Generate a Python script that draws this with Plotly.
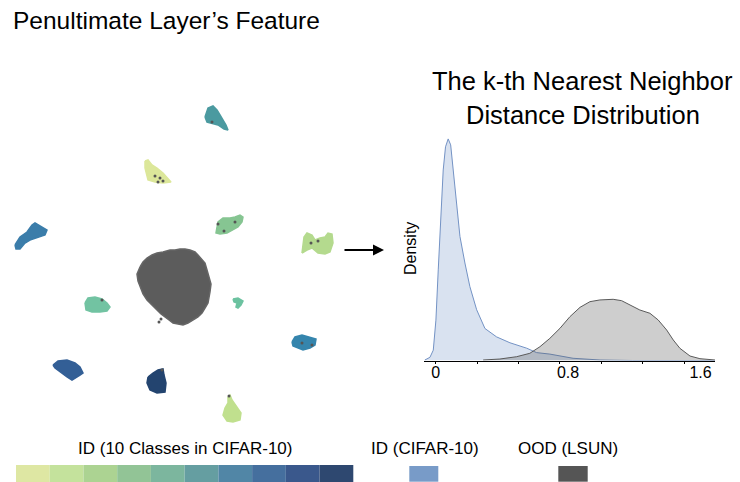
import plotly.graph_objects as go

# ---------------- Data ----------------
# k-th nearest neighbor distance densities
id_dist = [-0.065, -0.034, -0.014, 0.002, 0.016, 0.030, 0.046, 0.060, 0.076, 0.091, 0.106,
           0.127, 0.147, 0.177, 0.207, 0.248, 0.298, 0.368, 0.449, 0.550, 0.610, 0.690,
           0.750, 0.830, 0.993, 1.19, 1.69]
id_density = [0.01, 0.065, 0.21, 0.82, 1.84, 2.85, 3.87, 4.34, 4.5, 4.38, 3.87,
              3.12, 2.52, 1.98, 1.50, 1.03, 0.65, 0.48, 0.36, 0.25, 0.16, 0.13,
              0.09, 0.045, 0.01, 0.0, 0.0]
ood_dist = [0.287, 0.388, 0.489, 0.569, 0.630, 0.690, 0.751, 0.811, 0.872, 0.932, 0.992,
            1.072, 1.123, 1.173, 1.233, 1.294, 1.344, 1.395, 1.435, 1.475, 1.536, 1.596, 1.687]
ood_density = [0.01, 0.03, 0.077, 0.146, 0.28, 0.45, 0.654, 0.89, 1.08, 1.195, 1.23,
               1.243, 1.215, 1.128, 1.026, 0.959, 0.823, 0.62, 0.417, 0.248, 0.091, 0.037, 0.01]
dist_tickvals = [0, 0.8, 1.6]
dist_ticktext = ["0", "0.8", "1.6"]
dist_minor_ticks = [0, 0.25, 0.5, 0.75, 1.0, 1.25, 1.5]

# 2-D embedding of penultimate-layer features: cluster outlines (embedding units)
cluster_colors = ["#4b9aa0", "#dce79a", "#3b7daa", "#86c592", "#b4da8e", "#6cc2a0",
                  "#72c3a2", "#3585ad", "#335f96", "#23446f", "#c0e08e"]
cluster_x = [
    [205, 208, 213, 217, 220, 223, 226, 228, 224, 218, 212, 207],
    [145, 148, 152, 157, 163, 168, 171, 163, 155, 148, 147, 145],
    [15, 20, 27, 32, 35, 42, 47, 45, 38, 30, 25, 20, 16],
    [217, 218, 223, 230, 235, 240, 243, 242, 238, 233, 227, 220, 216],
    [302, 304, 307, 312, 315, 320, 325, 328, 332, 333, 330, 325, 318, 312, 307],
    [233, 238, 243, 241, 238, 236, 237, 234],
    [85, 88, 95, 102, 107, 110, 107, 100, 92, 86],
    [292, 295, 302, 310, 316, 315, 310, 303, 297, 293],
    [53, 58, 67, 75, 80, 83, 80, 75, 72, 67, 60, 55],
    [148, 153, 158, 163, 164, 166, 165, 157, 150, 147],
    [228, 230, 232, 237, 241, 240, 233, 227, 223, 225, 228],
]
cluster_y = [
    [117, 108, 106, 110, 115, 120, 125, 130, 129, 125, 123, 122],
    [161, 160, 165, 168, 173, 178, 182, 183, 182, 180, 175, 168],
    [245, 237, 232, 225, 223, 227, 230, 235, 237, 240, 243, 249, 249],
    [227, 222, 218, 218, 217, 215, 217, 222, 227, 230, 233, 234, 233],
    [253, 237, 233, 235, 240, 238, 237, 233, 234, 243, 252, 254, 253, 248, 250],
    [299, 298, 301, 305, 308, 307, 303, 302],
    [303, 298, 297, 299, 303, 307, 311, 312, 312, 310],
    [342, 337, 335, 337, 339, 345, 348, 350, 348, 346],
    [365, 361, 360, 363, 367, 373, 375, 378, 380, 377, 372, 368],
    [377, 373, 370, 369, 375, 383, 392, 393, 390, 383],
    [397, 395, 400, 407, 413, 420, 422, 421, 415, 408, 403],
]
ood_blob_x = [140, 143, 147, 152, 157, 163, 170, 175, 180, 185, 190, 195, 198, 202, 205, 207,
              209, 211, 210, 208, 205, 202, 198, 193, 188, 183, 178, 173, 169, 165, 161, 157,
              152, 147, 143, 140, 138, 137]
ood_blob_y = [267, 262, 258, 255, 253, 252, 250, 250, 249, 249, 250, 252, 255, 259, 263, 270,
              277, 284, 292, 303, 308, 313, 317, 320, 323, 325, 324, 323, 320, 317, 314, 310,
              305, 300, 294, 287, 281, 274]
ood_stray_x = [155, 160, 163, 158, 218, 224, 235, 311, 318, 212, 102, 302, 312, 162, 159, 161, 229]
ood_stray_y = [176, 178, 181, 182, 224, 231, 222, 243, 241, 122, 300, 343, 345, 370, 322, 319, 396]

# legend
class_palette = ["#dee7a3", "#c4e29c", "#acd392", "#92c496", "#7cb69e", "#659ea1",
                 "#5186a6", "#456f9e", "#3a588c", "#2e4870"]
id_color = "#789bc8"
ood_color = "#555555"

FONT = "Liberation Sans, Arial, Helvetica, sans-serif"
W, H = 740, 482


def px(x):
    return x / W


def py(y):
    return 1 - y / H


fig = go.Figure()

# density curves
fig.add_trace(go.Scatter(x=id_dist, y=id_density, mode="lines", fill="tozeroy",
                         line=dict(color="#7392c4", width=1),
                         fillcolor="rgba(118,150,200,0.28)", xaxis="x", yaxis="y",
                         hoverinfo="skip"))
fig.add_trace(go.Scatter(x=ood_dist, y=ood_density, mode="lines", fill="tozeroy",
                         line=dict(color="#5a5a5a", width=1),
                         fillcolor="rgba(80,80,80,0.28)", xaxis="x", yaxis="y",
                         hoverinfo="skip"))

# embedding clusters
for cx, cy, col in zip(cluster_x, cluster_y, cluster_colors):
    fig.add_trace(go.Scatter(x=cx + [cx[0]], y=cy + [cy[0]], mode="lines", fill="toself",
                             line=dict(color=col, width=1.5), fillcolor=col,
                             xaxis="x2", yaxis="y2", hoverinfo="skip"))
fig.add_trace(go.Scatter(x=ood_blob_x + [ood_blob_x[0]], y=ood_blob_y + [ood_blob_y[0]],
                         mode="lines", fill="toself", line=dict(color="#666666", width=1.5),
                         fillcolor="#5c5c5c", xaxis="x2", yaxis="y2", hoverinfo="skip"))
fig.add_trace(go.Scatter(x=ood_stray_x, y=ood_stray_y, mode="markers",
                         marker=dict(color="#555555", size=3), xaxis="x2", yaxis="y2",
                         hoverinfo="skip"))

shapes = []
bar_x0, bar_x1 = 16, 353.3
step = (bar_x1 - bar_x0) / len(class_palette)
for i, c in enumerate(class_palette):
    shapes.append(dict(type="rect", xref="paper", yref="paper",
                       x0=px(bar_x0 + i * step), x1=px(bar_x0 + (i + 1) * step),
                       y0=py(482), y1=py(465), fillcolor=c, line=dict(width=0)))
shapes.append(dict(type="rect", xref="paper", yref="paper", x0=px(409.3), x1=px(438.3),
                   y0=py(481.7), y1=py(466), fillcolor=id_color, line=dict(width=0)))
shapes.append(dict(type="rect", xref="paper", yref="paper", x0=px(558.3), x1=px(587.7),
                   y0=py(481.7), y1=py(466), fillcolor=ood_color, line=dict(width=0)))

ann = [
    dict(text="Penultimate Layer’s Feature", x=px(11), y=py(21), xanchor="left",
         yanchor="middle", font=dict(size=24.5)),
    dict(text="The k-th Nearest Neighbor", x=px(582.5), y=py(81), xanchor="center",
         yanchor="middle", font=dict(size=25.5)),
    dict(text="Distance Distribution", x=px(582.5), y=py(115), xanchor="center",
         yanchor="middle", font=dict(size=25.5)),
    dict(text="Density", x=px(410), y=py(249), xanchor="center", yanchor="middle",
         textangle=-90, font=dict(size=16)),
    dict(text="ID (10 Classes in CIFAR-10)", x=px(185), y=py(448), xanchor="center",
         yanchor="middle", font=dict(size=17)),
    dict(text="ID (CIFAR-10)", x=px(425.3), y=py(448), xanchor="center",
         yanchor="middle", font=dict(size=17)),
    dict(text="OOD (LSUN)", x=px(567.5), y=py(448), xanchor="center",
         yanchor="middle", font=dict(size=17)),
]
for a in ann:
    a.update(xref="paper", yref="paper", showarrow=False)
ann.append(dict(x=px(384), y=py(250), ax=-41, ay=0, xref="paper", yref="paper",
                showarrow=True, arrowhead=2, arrowsize=1.1, arrowwidth=2,
                arrowcolor="black", text=""))

fig.update_layout(
    width=W, height=H, margin=dict(l=0, r=0, t=0, b=0),
    paper_bgcolor="white", plot_bgcolor="white", showlegend=False,
    font=dict(family=FONT, color="black"),
    xaxis=dict(domain=[px(424), px(715)], range=[-0.07, 1.687], showgrid=False,
               zeroline=False, showline=True, linecolor="black", linewidth=1,
               tickvals=dist_tickvals, ticktext=dist_ticktext, ticks="",
               ticklabelstandoff=-3,
               tickfont=dict(size=16, color="black"),
               minor=dict(tickvals=dist_minor_ticks, ticks="outside", ticklen=2,
                          tickcolor="black", showgrid=False),
               anchor="y", fixedrange=True),
    yaxis=dict(domain=[py(360.5), py(134)], range=[0, 4.6], visible=False,
               anchor="x", fixedrange=True),
    xaxis2=dict(domain=[0, px(350)], range=[0, 350], visible=False, anchor="y2"),
    yaxis2=dict(domain=[py(430), py(95)], range=[430, 95], visible=False, anchor="x2"),
    shapes=shapes, annotations=ann,
)

fig.write_html("out.html")
